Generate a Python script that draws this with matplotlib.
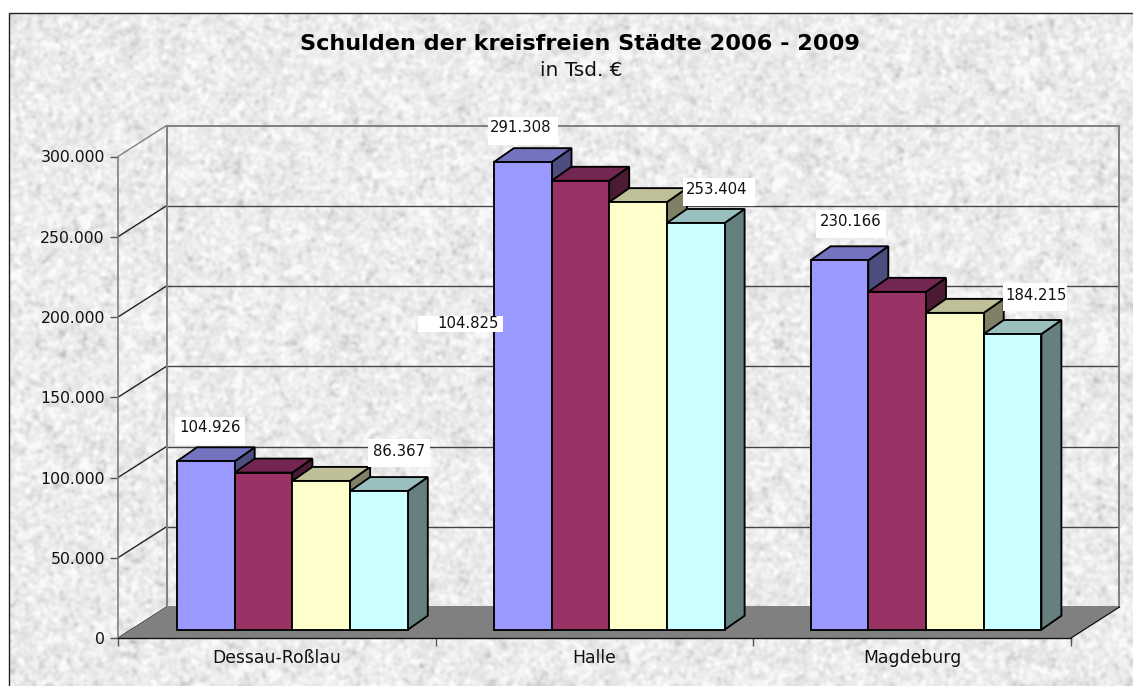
import numpy as np
import matplotlib
matplotlib.use('Agg')
import matplotlib.pyplot as plt
from matplotlib.patches import Polygon, Rectangle

plt.rcParams['font.family'] = ['DejaVu Sans']

# ---------- data ----------
cities = ['Dessau-Roßlau', 'Halle', 'Magdeburg']
series_2006 = [104926, 291308, 230166]
series_2007 = [97900, 279700, 210500]
series_2008 = [92700, 266400, 197400]
series_2009 = [86367, 253404, 184215]
y_ticks = [0, 50000, 100000, 150000, 200000, 250000, 300000]
y_tick_labels = ['0', '50.000', '100.000', '150.000', '200.000', '250.000', '300.000']
title = 'Schulden der kreisfreien Städte 2006 - 2009'
subtitle = 'in Tsd. €'
# text, text centre x/y, box x0/x1/y0/y1 (pixels)
data_labels = [
    ('104.926', 210, 427, 175, 245, 417, 445),
    ('86.367', 399, 451, 368, 430, 439, 467),
    ('291.308', 521, 128, 488, 558, 117, 145),
    ('253.404', 717, 189, 683, 755, 178, 206),
    ('104.825', 468, 324, 418, 503, 316, 332),
    ('230.166', 851, 221, 816, 886, 210, 238),
    ('184.215', 1036, 295, 1003, 1067, 283, 311),
]
front_colors = ['#9999FF', '#993366', '#FFFFCC', '#CCFFFF']
top_colors = ['#7373BF', '#732650', '#BFBF99', '#99BFBF']
side_colors = ['#4D4D80', '#4D1A33', '#808066', '#668080']

W, H = 1133, 686
fig = plt.figure(figsize=(W / 100, H / 100), dpi=100, facecolor='white')

# ---------- marble background (decoration only) ----------
rng = np.random.default_rng(7)
noise = rng.normal(size=(H, W))
fy = np.fft.fftfreq(H)[:, None]
fx = np.fft.fftfreq(W)[None, :]
r2 = fx ** 2 + fy ** 2
fine = np.fft.ifft2(np.fft.fft2(noise) * np.exp(-r2 * 2 * (np.pi * 1.7) ** 2)).real
coarse = np.fft.ifft2(np.fft.fft2(noise[::-1]) * np.exp(-r2 * 2 * (np.pi * 3.5) ** 2)).real
tex = 0.8 * fine / fine.std() + 0.4 * coarse / coarse.std()
tex = np.clip(235 + 8 * tex, 190, 250)
tex = np.where(tex < 226, tex - (226 - tex) * 0.5, tex)
bg = fig.add_axes([0, 0, 1, 1], zorder=0)
left_px, top_px = 9, 13
tex[:top_px, :] = 255
tex[:, :left_px] = 255
bg.imshow(tex, cmap='gray', vmin=0, vmax=255, aspect='auto', interpolation='bilinear',
          extent=(0, W, H, 0))
bg.plot([left_px, left_px, W], [H, top_px, top_px], color='#222222', lw=1.0)
bg.set_xlim(0, W)
bg.set_ylim(H, 0)
bg.axis('off')

# ---------- chart axes: front plane of the 3-D box ----------
ax_x0, ax_x1, ax_top, ax_bot = 118, 1071, 156.5, 638
ax = fig.add_axes([ax_x0 / W, 1 - ax_bot / H, (ax_x1 - ax_x0) / W, (ax_bot - ax_top) / H], zorder=1)
ax.patch.set_alpha(0)
ax.set_xlim(0, 3)
ax.set_ylim(0, 300000)
ux = (ax_x1 - ax_x0) / 3          # pixels per category
uy = (ax_bot - ax_top) / 300000   # pixels per value unit

wall_dx, wall_dy = 48.5 / ux, 31 / uy
bar_dx, bar_dy = 20 / ux, 14 / uy
bar_w = 57.7 / ux
bar_x0 = 59 / ux
bar_step = 316.8 / ux
bar_base = 8.3 / uy

# back wall frame and grid
for v in y_ticks:
    col = '#808080' if v in (300000, 0) else '#444444'
    lw = 1.4 if v in (300000, 0) else 1.0
    ax.plot([wall_dx, 3 + wall_dx], [v + wall_dy] * 2, color=col, lw=lw, clip_on=False, zorder=2)
    side_col = '#808080' if v == 300000 else '#222222'
    ax.plot([0, wall_dx], [v, v + wall_dy], color=side_col, lw=1.0 if v else 0.8, clip_on=False, zorder=2)
for x in (wall_dx, 3 + wall_dx):
    ax.plot([x, x], [wall_dy, 300000 + wall_dy], color='#808080', lw=1.4, clip_on=False, zorder=2)

# floor
ax.add_patch(Polygon([(0, 0), (3, 0), (3 + wall_dx, wall_dy), (wall_dx, wall_dy)],
                     closed=True, fc='#808080', ec='none', clip_on=False, zorder=3))
ax.plot([3, 3 + wall_dx], [0, wall_dy], color='#111111', lw=0.9, clip_on=False, zorder=3)

# bars
all_series = [series_2006, series_2007, series_2008, series_2009]
for c in range(len(cities)):
    for s, values in enumerate(all_series):
        x0 = c * bar_step + bar_x0 + s * bar_w
        x1 = x0 + bar_w
        y0 = bar_base
        y1 = bar_base + values[c]
        style = dict(closed=True, ec='black', lw=1.35, joinstyle='miter', clip_on=False, zorder=4)
        ax.add_patch(Polygon([(x1, y0), (x1 + bar_dx, y0 + bar_dy), (x1 + bar_dx, y1 + bar_dy), (x1, y1)],
                             fc=side_colors[s], **style))
        ax.add_patch(Polygon([(x0, y1), (x1, y1), (x1 + bar_dx, y1 + bar_dy), (x0 + bar_dx, y1 + bar_dy)],
                             fc=top_colors[s], **style))
        ax.add_patch(Polygon([(x0, y0), (x1, y0), (x1, y1), (x0, y1)],
                             fc=front_colors[s], **style))

# axes
for name in ('top', 'right'):
    ax.spines[name].set_visible(False)
ax.spines['left'].set_color('#808080')
ax.spines['left'].set_linewidth(1.2)
ax.spines['bottom'].set_color('#111111')
ax.spines['bottom'].set_linewidth(1.0)
ax.spines['left'].set_zorder(5)
ax.spines['bottom'].set_zorder(5)
ax.set_yticks(y_ticks)
ax.set_yticklabels(y_tick_labels, fontsize=11.3, color='#111111')
ax.tick_params(axis='y', length=6, width=1.0, color='#555555', pad=3.5)
ax.set_xticks([0, 1, 2, 3])
ax.set_xticklabels([])
ax.tick_params(axis='x', which='major', length=6, width=1.0, color='#555555')
ax.set_xticks([0.5, 1.5, 2.5], minor=True)
ax.set_xticklabels(cities, minor=True, fontsize=12.4, color='#111111')
ax.tick_params(axis='x', which='minor', length=0, pad=8)

# overlay for labels
ov = fig.add_axes([0, 0, 1, 1], zorder=2)
ov.set_xlim(0, W)
ov.set_ylim(H, 0)
ov.axis('off')
for txt, cx, cy, x0, x1, y0, y1 in data_labels:
    ov.add_patch(Rectangle((x0, y0), x1 - x0, y1 - y0, fc='white', ec='none', zorder=1))
    ov.text(cx, cy, txt, ha='center', va='center', fontsize=10.7, color='#111111', zorder=2)

ov.text(580, 44, title, ha='center', va='center', fontsize=16.1, fontweight='bold', color='black')
ov.text(581, 71, subtitle, ha='center', va='center', fontsize=14.5, color='#111111')

fig.savefig('out.png', dpi=100)
